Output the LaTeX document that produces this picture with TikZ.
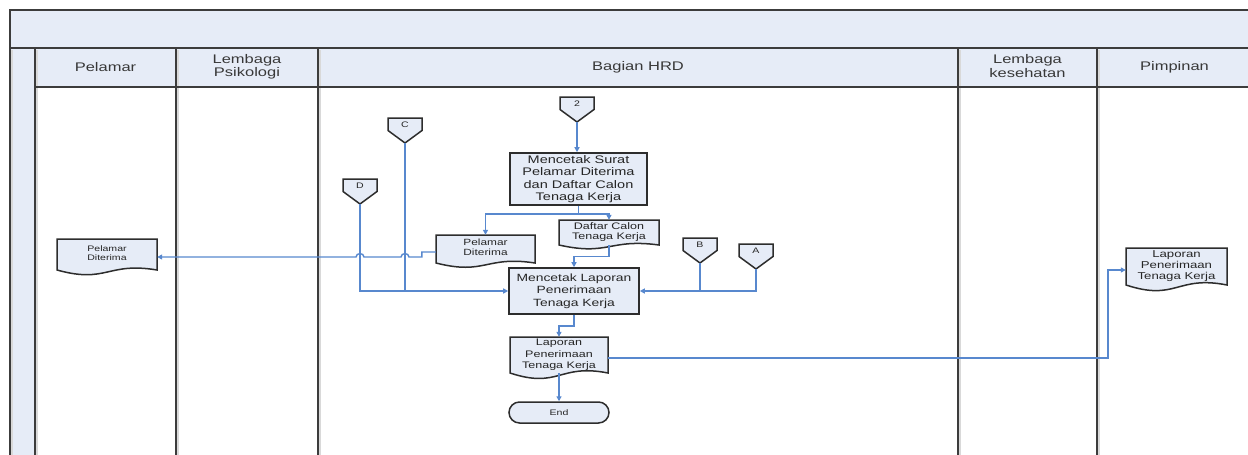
\documentclass[tikz,border=0pt]{standalone}
\usepackage{fontspec}
\setmainfont[FakeStretch=1.32]{Liberation Sans}
\usetikzlibrary{arrows.meta,calc}

\definecolor{lanefill}{RGB}{230,236,247}
\definecolor{frameline}{RGB}{60,60,60}
\definecolor{flowblue}{RGB}{88,136,206}
\definecolor{inkgrey}{RGB}{45,45,45}

\tikzset{
  laneline/.style={draw=frameline, line width=2pt},
  laneshadow/.style={draw=black!15, line width=1.6pt},
  head/.style={font=\fontsize{12.5}{13.5}\selectfont, text=black!78, align=center, inner sep=0pt},
  procbox/.style={draw=inkgrey, line width=1.6pt, fill=lanefill, align=center, inner sep=0pt, text=black!85},
  docoutline/.style={draw=inkgrey, line width=1.5pt, fill=lanefill},
  doctext/.style={align=center, inner sep=0pt, text=black!85},
  flow/.style={draw=flowblue, line width=1.4pt, -{Triangle[length=5pt,width=5pt]}},
  link/.style={draw=flowblue, line width=1.4pt},
}

% document symbol: rectangle with a wavy lower edge, then its named text node
% #1 name, #2 left, #3 top, #4 right, #5 bottom, #6 font, #7 text
\newcommand{\docnode}[7]{%
  \path[docoutline] (#2,#3) -- (#4,#3) -- (#4,#5)
    .. controls ({(#2+#4)/2},{#5-0.27*(#5-#3)}) and ({(#2+#4)/2},{#5+0.45*(#5-#3)}) .. (#2,#5) -- cycle;
  \node[doctext, minimum width={#4-#2}, minimum height={#5-#3}, font=#6]
    (#1) at ({(#2+#4)/2},{(#3+#5)/2}) {#7};
}

% off-page reference: pentagon pointing down
% #1 name, #2 centre x, #3 top, #4 label
\newcommand{\offpage}[4]{%
  \path[docoutline] ({#2-17},#3) -- ({#2+17},#3) -- ({#2+17},{#3+12.5})
    -- (#2,{#3+25}) -- ({#2-17},{#3+12.5}) -- cycle;
  \node[doctext, minimum width=34, minimum height=25, font=\fontsize{8}{9}\selectfont]
    (#1) at (#2,{#3+12.5}) {\raisebox{3pt}[0pt][0pt]{#4}};
}

\begin{document}
\begin{tikzpicture}[x=1pt, y=-1pt]
\useasboundingbox (0,0) rectangle (1248,455);
\clip (0,0) rectangle (1248,455);

% ---- swimlane frame ----
\fill[lanefill] (10,10) rectangle (1270,48);
\fill[lanefill] (35,48) rectangle (1270,87);
\fill[lanefill] (10,48) rectangle (35,470);
\foreach \lx in {12,37,178,320,960,1099}
  \draw[laneshadow] (\lx,50) -- (\lx,470);
\draw[laneline] (1270,10) -- (10,10) -- (10,470);
\draw[laneline] (10,48) -- (1270,48);
\draw[laneline] (35,87) -- (1270,87);
\foreach \lx in {35,176,318,958,1097}
  \draw[laneline] (\lx,48) -- (\lx,470);

% ---- lane headers ----
\node[head] (hPelamar)  at (105.5,67.5) {Pelamar};
\node[head] (hPsiko)    at (247,67) {Lembaga\\Psikologi};
\node[head] (hHRD)      at (638,67.5) {Bagian HRD};
\node[head] (hSehat)    at (1027.5,66) {Lembaga\\kesehatan};
\node[head] (hPimpinan) at (1174.5,67.5) {Pimpinan};

% ---- Bagian HRD ----
\offpage{c2}{577}{97}{2}
\offpage{cC}{405}{118}{C}
\offpage{cD}{360}{179}{D}
\offpage{cB}{700}{238}{B}
\offpage{cA}{756}{244}{A}

\node[procbox, minimum width=137, minimum height=52,
      font=\fontsize{11}{12.5}\selectfont] (p1) at (578.5,179)
  {Mencetak Surat\\Pelamar Diterima\\dan Daftar Calon\\Tenaga Kerja};

\docnode{hd1}{436}{235}{535}{263}{\fontsize{9}{11.5}\selectfont}{\raisebox{3pt}{\shortstack{Pelamar\\Diterima}}}
\docnode{dc}{559}{220}{659}{245}{\fontsize{9.5}{11}\selectfont}{\raisebox{1pt}{\shortstack{Daftar Calon\\Tenaga Kerja}}}

\node[procbox, minimum width=130, minimum height=46,
      font=\fontsize{10.5}{12.5}\selectfont] (p2) at (574,291)
  {Mencetak Laporan\\Penerimaan\\Tenaga Kerja};

\docnode{lap}{510}{337}{608}{373}{\fontsize{9.5}{11.5}\selectfont}{Laporan\\Penerimaan\\Tenaga Kerja}

\node[procbox, line width=1.5pt, rounded corners=10.5pt, minimum width=100, minimum height=21,
      font=\fontsize{8}{9}\selectfont] (end) at (559,412.5) {End};

% ---- Pelamar ----
\docnode{pd}{57}{239}{157}{270}{\fontsize{8}{11}\selectfont}{\raisebox{3pt}{\shortstack{Pelamar\\Diterima}}}

% ---- Pimpinan ----
\docnode{pp}{1126}{248}{1227}{285}{\fontsize{10}{11}\selectfont}{Laporan\\Penerimaan\\Tenaga Kerja}

% ---- connectors ----
\draw[flow] (c2.south) -- (c2.south |- p1.north);
\draw[flow] (p1.south) -- ++(0,8) -| (hd1.north);
\draw[flow] (p1.south) -- ++(0,8) -| (dc.north);
\draw[flow] (dc.south) |- ($(p2.north)+(0,-11)$) -- (p2.north);

\coordinate (hopy) at (0,257);
\draw[flow] ([yshift=-3pt]hd1.west) -- ++(-14,0) -- ++(0,5)
  -- (409,257) .. controls (409,252.5) and (401,252.5) .. (401,257)
  -- (364,257) .. controls (364,252.5) and (356,252.5) .. (356,257)
  -- (pd.east |- hopy);

\draw[flow] (cD.south) |- (p2.west);
\draw[link] (cC.south) -- (cC.south |- p2.west);
\draw[flow] (cB.south) |- (p2.east);
\draw[link] (cA.south) |- (cB.south |- p2.east);

\draw[flow] (p2.south) -- ++(0,11) -| (lap.north);
\draw[flow] (lap.south) -- (end.north);
\draw[flow] ([yshift=-3pt]lap.east) -| ($(pp.west)+(-18,3.5)$) -- ([yshift=-3.5pt]pp.west);

\end{tikzpicture}
\end{document}
